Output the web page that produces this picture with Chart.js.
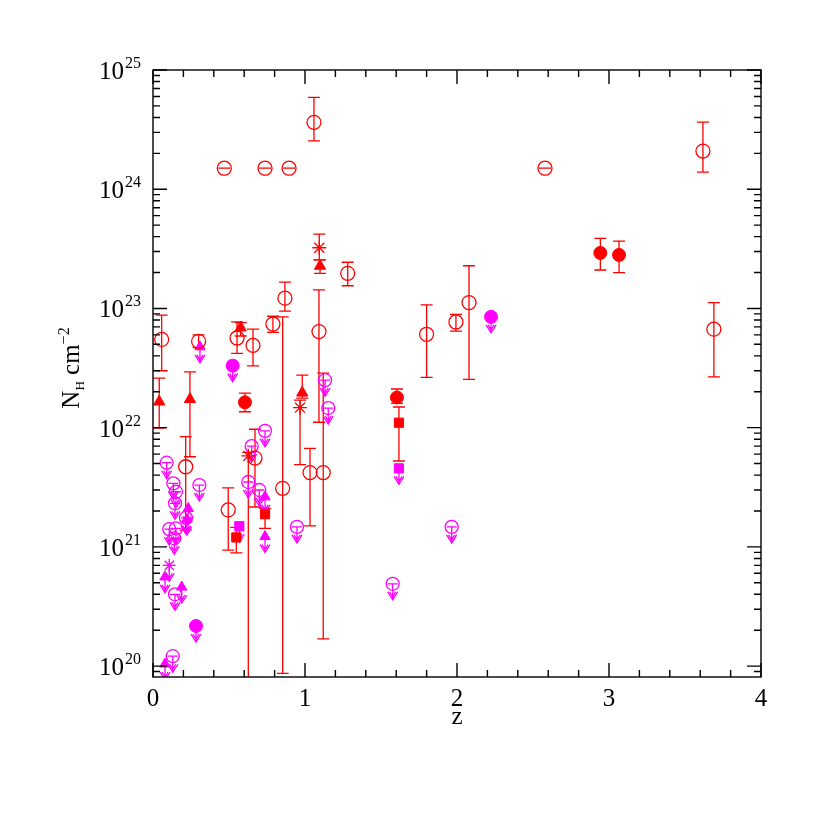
<!DOCTYPE html>
<html>
<head>
<meta charset="utf-8">
<script src="https://cdn.jsdelivr.net/npm/chart.js@4/dist/chart.umd.min.js"></script>
<style>
html, body { margin:0; padding:0; background:#fff; }
</style>
</head>
<body>
<canvas id="nhChart" width="830" height="830"></canvas>
<script>
// TICK LABELS
const xTickLabels = ['0', '1', '2', '3', '4'];
const yTickExps = [20, 21, 22, 23, 24, 25];

// DETECTIONS - open circles (z, NH, lower, upper)
const circZ  = [0.057, 0.30, 0.553, 0.658, 0.789, 0.868, 1.092, 1.059, 1.281, 0.495, 0.215, 0.671, 0.853, 1.033, 1.12, 1.80, 1.993, 2.079, 3.69, 3.618];
const circNH = [5.5e22, 5.3e22, 5.65e22, 4.9e22, 7.4e22, 1.22e23, 6.4e22, 3.64e24, 1.97e23, 2.04e21, 4.7e21, 5.56e21, 3.1e21, 4.2e21, 4.2e21, 6.07e22, 7.7e22, 1.12e23, 6.7e22, 2.09e24];
const circLo = [3.0e22, 4.7e22, 4.2e22, 3.3e22, 6.3e22, 9.5e22, 1.11e22, 2.54e24, 1.55e23, 9.4e20, 1.38e21, 2.16e21, 8.7e19, 1.5e21, 1.69e20, 2.64e22, 6.46e22, 2.54e22, 2.67e22, 1.39e24];
const circHi = [8.8e22, 6.0e22, 7.7e22, 6.7e22, 8.6e22, 1.66e23, 1.43e23, 5.9e24, 2.44e23, 3.13e21, 8.4e21, 9.7e21, 8.5e22, 6.7e21, 2.87e22, 1.07e23, 8.9e22, 2.28e23, 1.12e23, 3.66e24];

// Compton thick (fixed value)
const thickZ  = [0.469, 0.737, 0.895, 2.579];
const thickNH = [1.5e24, 1.5e24, 1.5e24, 1.5e24];

// filled circles
const dotZ  = [0.605, 1.605, 2.943, 3.066];
const dotNH = [1.63e22, 1.79e22, 2.92e23, 2.81e23];
const dotLo = [1.36e22, 1.6e22, 2.1e23, 2.0e23];
const dotHi = [1.95e22, 2.11e22, 3.87e23, 3.67e23];

// triangles
const triZ  = [0.041, 0.243, 0.577, 0.982, 1.099];
const triNH = [1.65e22, 1.73e22, 6.9e22, 1.96e22, 2.27e23];
const triLo = [9.9e21, 5.7e21, 5.87e22, 1.77e22, 1.97e23];
const triHi = [2.6e22, 2.94e22, 7.6e22, 2.76e22, 2.55e23];

// asterisks
const starZ  = [1.094, 0.967, 0.627];
const starNH = [3.23e23, 1.47e22, 5.8e21];
const starLo = [2.55e23, 4.9e21, 5e19];
const starHi = [4.2e23, 1.7e22, 6.2e21];

// squares
const sqZ  = [0.548, 0.737, 1.618];
const sqNH = [1.2e21, 1.88e21, 1.1e22];
const sqLo = [8.9e20, 1.43e21, 5.25e21];
const sqHi = [1.46e21, 2.1e21, 1.49e22];

// UPPER LIMITS (magenta)
const ulCircZ  = [0.090, 0.134, 0.151, 0.145, 0.305, 0.107, 0.151, 0.140, 0.217, 0.145, 0.130, 0.737, 0.649, 0.627, 0.699, 1.132, 1.153, 0.947, 1.965, 1.577];
const ulCircNH = [5.08e21, 3.41e21, 2.9e21, 2.32e21, 3.3e21, 1.41e21, 1.43e21, 1.18e21, 1.75e21, 4.0e20, 1.21e20, 9.4e21, 7.0e21, 3.5e21, 3.0e21, 2.5e22, 1.46e22, 1.47e21, 1.47e21, 4.9e20];
const ulTriZ  = [0.232, 0.222, 0.079, 0.189, 0.079, 0.309, 0.737, 0.737];
const ulTriNH = [2.1e21, 1.7e21, 5.6e20, 4.6e20, 1.04e20, 4.76e22, 2.63e21, 1.22e21];
const ulDotZ  = [0.524, 0.283, 2.224];
const ulDotNH = [3.31e22, 2.17e20, 8.5e22];
const ulSqZ  = [0.568, 1.618];
const ulSqNH = [1.49e21, 4.56e21];
const ulStarZ  = [0.107];
const ulStarNH = [7.0e20];

const RED = '#ff0000';
const MAG = '#ff00ff';
const SERIF = '"Liberation Serif", "DejaVu Serif", serif';

function pts(zs, nh, lo, hi) {
    return zs.map((z, i) => ({ x: z, y: nh[i], lo: lo ? lo[i] : nh[i], hi: hi ? hi[i] : nh[i] }));
}

// ERROR BARS + UPPER LIMIT ARROWS
const barsPlugin = {
    id: 'bars',
    beforeDatasetsDraw(chart) {
        const ctx = chart.ctx, ys = chart.scales.y, a = chart.chartArea;
        ctx.save();
        ctx.beginPath();
        ctx.rect(a.left, a.top, a.right - a.left, a.bottom - a.top);
        ctx.clip();
        chart.data.datasets.forEach((ds, i) => {
            const meta = chart.getDatasetMeta(i);
            ctx.strokeStyle = ds.borderColor;
            ctx.lineWidth = 1.3;
            meta.data.forEach((el, j) => {
                const d = ds.data[j];
                ctx.beginPath();
                if (ds.errBars) {
                    const yl = ys.getPixelForValue(d.lo), yh = ys.getPixelForValue(d.hi);
                    ctx.moveTo(el.x, yl); ctx.lineTo(el.x, yh);
                    ctx.moveTo(el.x - 6, yl); ctx.lineTo(el.x + 6, yl);
                    ctx.moveTo(el.x - 6, yh); ctx.lineTo(el.x + 6, yh);
                }
                if (ds.upperLimit) {
                    const tip = el.y + 16;
                    if (ds.tBar) { ctx.moveTo(el.x - 5, el.y); ctx.lineTo(el.x + 5, el.y); }
                    ctx.moveTo(el.x, el.y); ctx.lineTo(el.x, tip);
                    ctx.moveTo(el.x - 5, tip - 8); ctx.lineTo(el.x, tip); ctx.lineTo(el.x + 5, tip - 8);
                    ctx.moveTo(el.x - 3, tip - 8); ctx.lineTo(el.x, tip - 3); ctx.lineTo(el.x + 3, tip - 8);
                }
                ctx.stroke();
            });
        });
        ctx.restore();
    }
};

// FRAME, TICKS AND LABELS
const framePlugin = {
    id: 'frame',
    afterDraw(chart) {
        const ctx = chart.ctx, a = chart.chartArea;
        const xs = chart.scales.x, ys = chart.scales.y;
        ctx.save();
        ctx.strokeStyle = '#000';
        ctx.lineWidth = 1.4;
        ctx.strokeRect(a.left, a.top, a.right - a.left, a.bottom - a.top);

        ctx.beginPath();
        for (let k = 0; k <= 20; k++) {
            const px = xs.getPixelForValue(k * 0.2);
            const len = k % 5 === 0 ? 14 : 7;
            ctx.moveTo(px, a.bottom); ctx.lineTo(px, a.bottom - len);
            ctx.moveTo(px, a.top); ctx.lineTo(px, a.top + len);
        }
        for (let e = 19; e <= 25; e++) {
            for (let m = 1; m <= 9; m++) {
                const v = m * Math.pow(10, e);
                if (v < ys.min || v > ys.max * 1.001) continue;
                const py = ys.getPixelForValue(v);
                const len = m === 1 ? 14 : 7;
                ctx.moveTo(a.left, py); ctx.lineTo(a.left + len, py);
                ctx.moveTo(a.right, py); ctx.lineTo(a.right - len, py);
            }
        }
        ctx.stroke();

        ctx.fillStyle = '#000';
        // x tick labels
        ctx.font = '25px ' + SERIF;
        ctx.textAlign = 'center';
        ctx.textBaseline = 'alphabetic';
        xTickLabels.forEach((lab, k) => {
            ctx.fillText(lab, xs.getPixelForValue(k), 706);
        });
        // y tick labels 10^n
        yTickExps.forEach(e => {
            const py = ys.getPixelForValue(Math.pow(10, e));
            ctx.font = '25px ' + SERIF;
            const wb = ctx.measureText('10').width;
            ctx.font = '16px ' + SERIF;
            const we = ctx.measureText(String(e)).width;
            const x0 = 141 - wb - we - 1;
            ctx.textAlign = 'left';
            ctx.font = '25px ' + SERIF;
            ctx.fillText('10', x0, py + 9);
            ctx.font = '16px ' + SERIF;
            ctx.fillText(String(e), x0 + wb + 1, py - 2);
        });
        // x title
        ctx.font = '25px ' + SERIF;
        ctx.textAlign = 'center';
        ctx.fillText('z', (a.left + a.right) / 2, 724);
        // y title N_H cm^-2
        ctx.translate(79, 368);
        ctx.rotate(-Math.PI / 2);
        ctx.textAlign = 'left';
        const parts = [['N', 25, 0], ['H', 13, 5], [' cm', 25, 0], ['\u22122', 16, -10]];
        let total = 0;
        parts.forEach(p => { ctx.font = p[1] + 'px ' + SERIF; total += ctx.measureText(p[0]).width; });
        let cx = -total / 2;
        parts.forEach(p => {
            ctx.font = p[1] + 'px ' + SERIF;
            ctx.fillText(p[0], cx, p[2]);
            cx += ctx.measureText(p[0]).width;
        });
        ctx.restore();
    }
};

function openSet(data, color, radius, extra) {
    return Object.assign({ data, pointStyle: 'circle', pointRadius: radius, borderColor: color, backgroundColor: 'rgba(0,0,0,0)', pointBorderWidth: 1.3 }, extra);
}
function filledSet(data, style, color, radius, extra) {
    return Object.assign({ data, pointStyle: style, pointRadius: radius, borderColor: color, backgroundColor: color, pointBorderWidth: 1 }, extra);
}

const datasets = [
    openSet(pts(circZ, circNH, circLo, circHi), RED, 7, { errBars: true }),
    openSet(pts(thickZ, thickNH), RED, 7, { errBars: true }),
    filledSet(pts(dotZ, dotNH, dotLo, dotHi), 'circle', RED, 6.5, { errBars: true }),
    filledSet(pts(triZ, triNH, triLo, triHi), 'triangle', RED, 6.5, { errBars: true }),
    Object.assign(filledSet(pts(starZ, starNH, starLo, starHi), 'star', RED, 7, { errBars: true }), { pointBorderWidth: 1.3 }),
    filledSet(pts(sqZ, sqNH, sqLo, sqHi), 'rect', RED, 6.5, { errBars: true }),
    openSet(pts(ulCircZ, ulCircNH), MAG, 6.5, { upperLimit: true, tBar: true }),
    filledSet(pts(ulTriZ, ulTriNH), 'triangle', MAG, 6, { upperLimit: true }),
    filledSet(pts(ulDotZ, ulDotNH), 'circle', MAG, 6.5, { upperLimit: true }),
    filledSet(pts(ulSqZ, ulSqNH), 'rect', MAG, 6.5, { upperLimit: true }),
    Object.assign(filledSet(pts(ulStarZ, ulStarNH), 'star', MAG, 6.5, { upperLimit: true }), { pointBorderWidth: 1.3 })
];

new Chart(document.getElementById('nhChart'), {
    type: 'scatter',
    data: { datasets },
    options: {
        responsive: false,
        animation: false,
        layout: { padding: { left: 50, right: 69, top: 70, bottom: 100 } },
        plugins: { legend: { display: false }, tooltip: { enabled: false } },
        scales: {
            x: {
                type: 'linear', min: 0, max: 4,
                grid: { display: false, drawTicks: false },
                border: { display: false },
                ticks: { display: false },
                afterFit(s) { s.height = 53; }
            },
            y: {
                type: 'logarithmic', min: 8.1e19, max: 1e25,
                grid: { display: false, drawTicks: false },
                border: { display: false },
                ticks: { display: false },
                afterFit(s) { s.width = 103; }
            }
        }
    },
    plugins: [barsPlugin, framePlugin]
});
</script>
</body>
</html>
